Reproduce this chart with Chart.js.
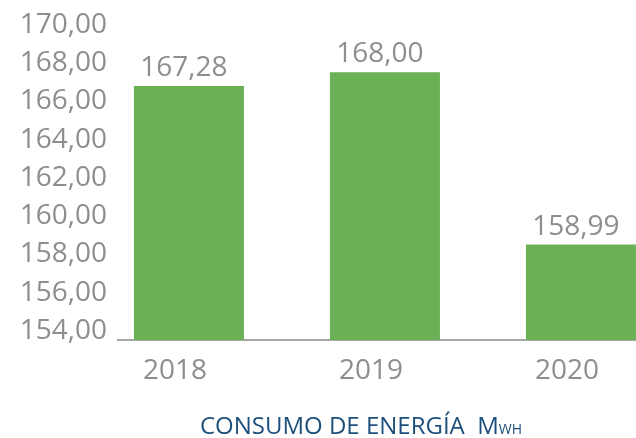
<!DOCTYPE html>
<html>
<head>
<meta charset="utf-8">
<script src="https://cdn.jsdelivr.net/npm/chart.js@4"></script>
<style>
  html, body { margin: 0; padding: 0; background: #fff; overflow: hidden; }
  #wrap { position: relative; width: 636px; height: 438px; }
  #title {
    position: absolute; left: 361px; top: 413px; transform: translateX(-50%);
    font-family: "Open Sans", sans-serif; font-size: 24px; line-height: 24px;
    color: #1d4f7c; white-space: nowrap;
  }
  #title span { font-size: 14px; }
</style>
</head>
<body>
<div id="wrap">
  <canvas id="graph" width="636" height="438"></canvas>
  <div id="title">CONSUMO DE ENERGÍA&nbsp; M<span>WH</span></div>
</div>
<script>
// data
var years = ['2018', '2019', '2020'];
var consumption = [167.28, 168.00, 158.99];
var yTicks = [154, 156, 158, 160, 162, 164, 166, 168, 170];

const grey = '#8e8e91';
const fmt = v => Number(v).toFixed(2).replace('.', ',');

// value labels above bars
const valueLabels = {
  id: 'valueLabels',
  afterDatasetsDraw(chart) {
    const ctx = chart.ctx;
    const meta = chart.getDatasetMeta(0);
    ctx.save();
    ctx.font = '28px "Open Sans"';
    ctx.fillStyle = grey;
    ctx.textAlign = 'center';
    ctx.textBaseline = 'alphabetic';
    meta.data.forEach((bar, i) => {
      ctx.fillText(fmt(consumption[i]), bar.x - 5, bar.y - 10);
    });
    ctx.restore();
  }
};

const config = {
  type: 'bar',
  data: {
    datasets: [{
      data: years.map((y, i) => ({ x: i, y: consumption[i] })),
      backgroundColor: '#6ab155',
      borderWidth: 0,
      categoryPercentage: 1,
      barPercentage: 110 / 196
    }]
  },
  plugins: [valueLabels],
  options: {
    responsive: false,
    animation: false,
    layout: { padding: { top: 34, right: 0, bottom: 0, left: 0 } },
    plugins: { legend: { display: false }, tooltip: { enabled: false } },
    scales: {
      x: {
        type: 'linear',
        offset: false,
        min: -0.362,
        max: 2.281,
        grid: { display: false, drawTicks: false, offset: false },
        border: { display: true, color: '#a7a7aa', width: 2 },
        afterBuildTicks: s => { s.ticks = years.map((_, i) => ({ value: i })); },
        afterFit: s => { s.height = 98; },
        ticks: {
          autoSkip: false,
          maxRotation: 0,
          padding: 14,
          labelOffset: -14,
          color: grey,
          font: { family: 'Open Sans', size: 28 },
          callback: v => years[v]
        }
      },
      y: {
        min: yTicks[0],
        max: yTicks[yTicks.length - 1],
        grid: { display: false, drawTicks: false },
        border: { display: false },
        afterBuildTicks: s => { s.ticks = yTicks.map(v => ({ value: v })); },
        afterFit: s => { s.width = 118; },
        ticks: {
          padding: 11,
          labelOffset: -9,
          color: grey,
          font: { family: 'Open Sans', size: 28 },
          callback: v => fmt(v)
        }
      }
    }
  }
};

const energyChart = new Chart(document.getElementById('graph'), config);
</script>
</body>
</html>
